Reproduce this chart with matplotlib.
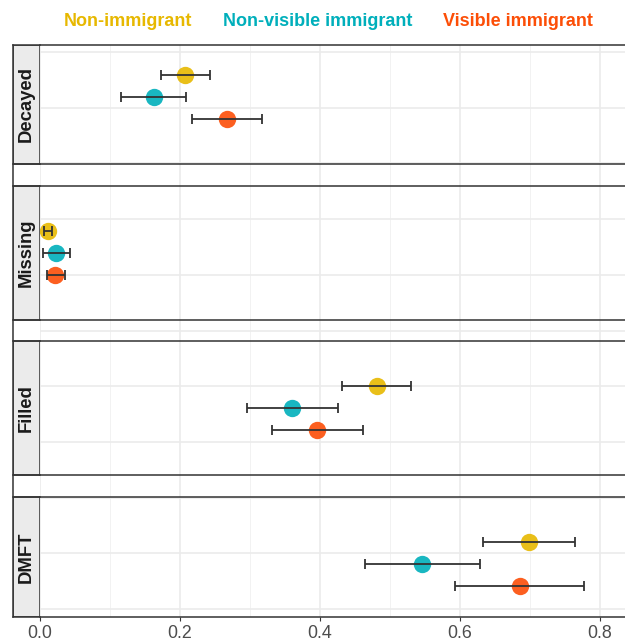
import numpy as np
import matplotlib.pyplot as plt
from matplotlib.patches import Rectangle

plt.rcParams['font.family'] = ['Liberation Sans', 'DejaVu Sans']

# Data (proportions)
measures = ["Decayed", "Missing", "Filled", "DMFT"]
groups = ["Non-immigrant", "Non-visible immigrant", "Visible immigrant"]
colors = ["#E7B800", "#00AFBB", "#FC4E07"]

est = np.array([
    [0.207, 0.163, 0.267],   # Decayed
    [0.011, 0.023, 0.022],   # Missing
    [0.481, 0.360, 0.396],   # Filled
    [0.699, 0.545, 0.685],   # DMFT
])
lower = np.array([
    [0.173, 0.116, 0.217],
    [0.006, 0.004, 0.010],
    [0.432, 0.296, 0.331],
    [0.633, 0.464, 0.593],
])
upper = np.array([
    [0.243, 0.209, 0.317],
    [0.017, 0.043, 0.036],
    [0.530, 0.425, 0.462],
    [0.764, 0.629, 0.777],
])

# Layout (pixel-like units on the y axis, top = 0)
W, H = 625, 642
top_px, bot_px = 45, 617
span = bot_px - top_px
group_step = 155.7
first_center = 30
dodge = 22
half_panel = 67
grid_step = 55.7
grid_start = 7

fig = plt.figure(figsize=(W / 100, H / 100), dpi=100)
ax = fig.add_axes([40 / W, (H - bot_px) / H, (W - 40) / W, span / H])
sax = fig.add_axes([13 / W, (H - bot_px) / H, 27 / W, span / H], sharey=ax)

border = "#333333"

for i, m in enumerate(measures):
    base = first_center + i * group_step
    ys = base + np.arange(len(groups)) * dodge
    for j in range(len(groups)):
        ax.plot(est[i, j], ys[j], 'o', color=colors[j], alpha=0.9,
                markersize=12.5, markeredgewidth=0, zorder=3)
        ax.errorbar(est[i, j], ys[j],
                    xerr=[[est[i, j] - lower[i, j]], [upper[i, j] - est[i, j]]],
                    fmt='none', ecolor=border, elinewidth=1.3, capsize=3.8,
                    capthick=1.3, zorder=4)

    # panel box and strip
    mid = base + dodge
    p_top = max(mid - half_panel, 0)
    p_bot = min(mid + half_panel, span)
    for y in (p_top, p_bot):
        ax.axhline(y, color=border, lw=1.1, zorder=5, clip_on=False)
        sax.axhline(y, color=border, lw=1.1, zorder=5, clip_on=False)
    sax.add_patch(Rectangle((0, p_top), 1, p_bot - p_top, facecolor="#EBEBEB",
                            edgecolor=border, lw=1.1, zorder=2))
    sax.text(0.5, (p_top + p_bot) / 2, m, rotation=90, ha='center', va='center',
             fontsize=13.3, fontweight='bold', color="#1A1A1A")

ax.set_ylim(span, 0)
ax.set_xlim(0, (W - 40) / 700)
ax.set_xticks(np.arange(0, 0.81, 0.2))
ax.set_xticks(np.arange(0.1, 0.81, 0.2), minor=True)
ax.set_xticklabels([f"{v:.1f}" for v in np.arange(0, 0.81, 0.2)])
ax.set_yticks(np.arange(grid_start, span, grid_step))
ax.tick_params(axis='y', left=False, labelleft=False)
ax.tick_params(axis='x', which='major', length=3, width=0.8, color=border,
               labelsize=12.8, labelcolor="#4D4D4D", pad=2.5)
ax.tick_params(axis='x', which='minor', length=0)
ax.grid(True, which='major', color="#EBEBEB", lw=1.2, zorder=0)
ax.grid(True, which='minor', axis='x', color="#F2F2F2", lw=0.7, zorder=0)
ax.set_axisbelow(True)
for s in ax.spines.values():
    s.set_visible(False)

sax.set_xlim(0, 1)
sax.axis('off')
sax.axvline(0, color=border, lw=1.1, clip_on=False, zorder=5)

# legend as coloured labels
for g, c, xc in zip(groups, colors, [128, 318, 518]):
    fig.text(xc / W, 1 - 22 / H, g, color=c, fontsize=13, fontweight='bold',
             ha='center', va='center')

fig.savefig("out.png", dpi=100)
